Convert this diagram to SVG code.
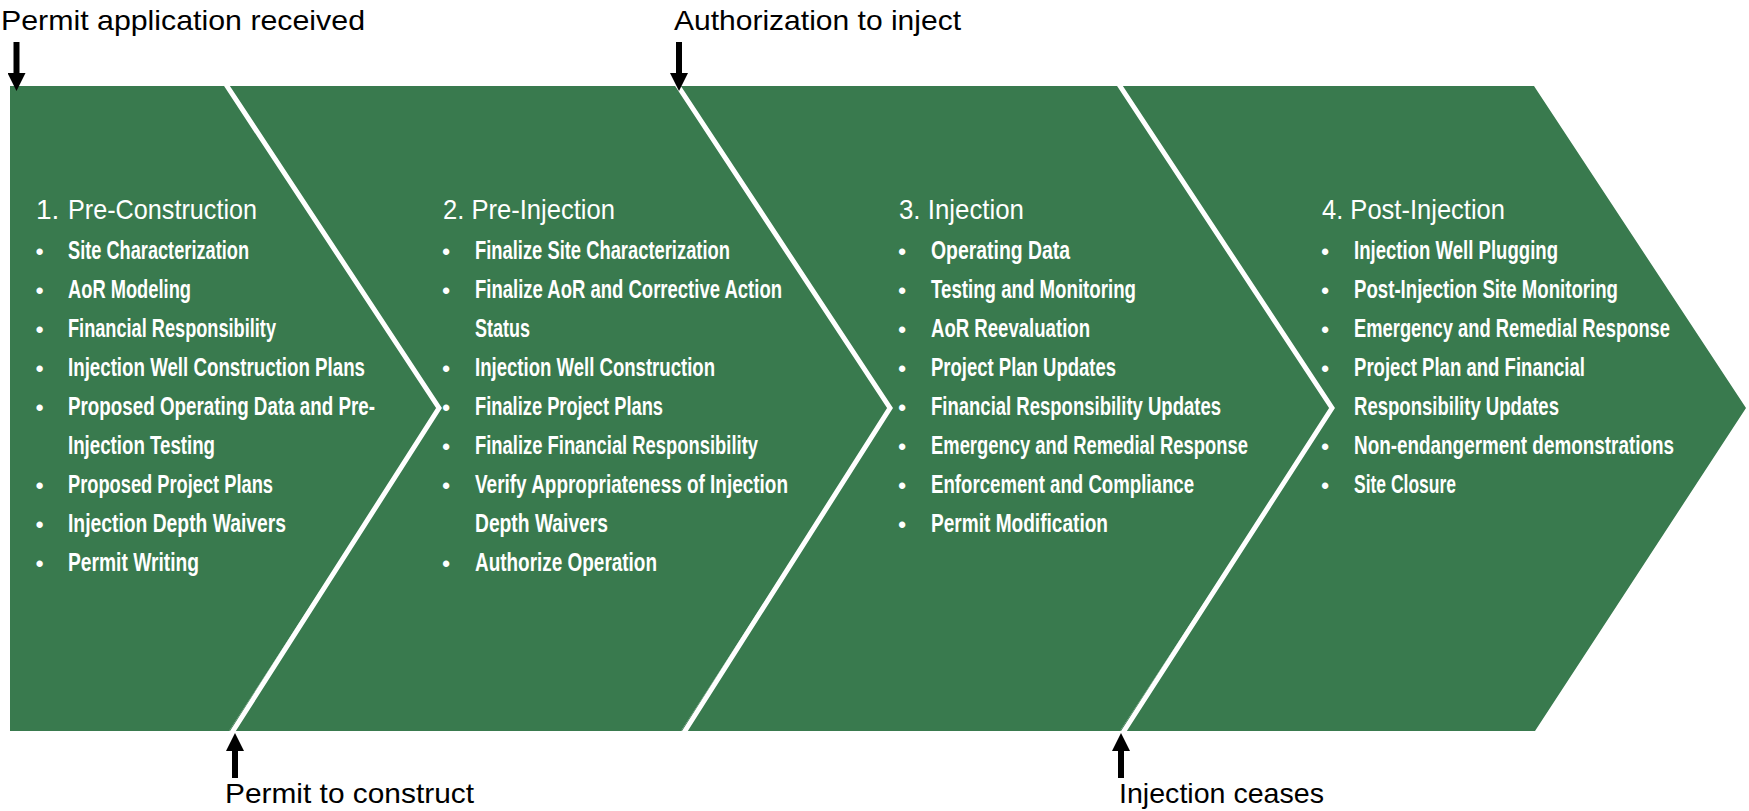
<svg xmlns="http://www.w3.org/2000/svg" width="1749" height="811" viewBox="0 0 1749 811">
<style>
.bg{fill:#ffffff}
.phase{fill:#397a4e}
.sep{fill:none;stroke:#ffffff;stroke-width:5;stroke-linejoin:miter}
.hd{font-family:"Liberation Sans",Arial,sans-serif;font-size:28px;fill:#ffffff}
.it{font-family:"Liberation Sans",Arial,sans-serif;font-size:18px;font-weight:bold;fill:#ffffff}
.bu{font-family:"Liberation Sans",Arial,sans-serif;font-size:22px;font-weight:bold;fill:#ffffff;text-anchor:middle}
.lb{font-family:"Liberation Sans",Arial,sans-serif;font-size:28px;fill:#000000}
.ar{fill:none;stroke:#000000;stroke-width:6}
</style>
<defs>
<marker id="head" viewBox="0 0 18 18" markerWidth="18" markerHeight="18" refX="0" refY="9" orient="auto" markerUnits="userSpaceOnUse">
<path d="M0,0 L18,9 L0,18 z" fill="#000000"/>
</marker>
</defs>
<rect class="bg" x="0" y="0" width="1749" height="811"/>

<g id="phase1">
<polygon class="phase" points="10,86 227,86 439,408 229,731 10,731"/>
<text class="hd" x="36" y="219">1.</text>
<text class="hd" x="68" y="219" textLength="189" lengthAdjust="spacingAndGlyphs">Pre-Construction</text>
<g class="bu">
<text x="39.5" y="259">•</text><text x="39.5" y="298">•</text><text x="39.5" y="337">•</text><text x="39.5" y="376">•</text><text x="39.5" y="415">•</text><text x="39.5" y="493">•</text><text x="39.5" y="532">•</text><text x="39.5" y="571">•</text>
</g>
<text class="it" transform="translate(68,259) scale(1,1.39)" textLength="181" lengthAdjust="spacingAndGlyphs">Site Characterization</text>
<text class="it" transform="translate(68,298) scale(1,1.39)" textLength="123" lengthAdjust="spacingAndGlyphs">AoR Modeling</text>
<text class="it" transform="translate(68,337) scale(1,1.39)" textLength="208" lengthAdjust="spacingAndGlyphs">Financial Responsibility</text>
<text class="it" transform="translate(68,376) scale(1,1.39)" textLength="297" lengthAdjust="spacingAndGlyphs">Injection Well Construction Plans</text>
<text class="it" transform="translate(68,415) scale(1,1.39)" textLength="307" lengthAdjust="spacingAndGlyphs">Proposed Operating Data and Pre-</text>
<text class="it" transform="translate(68,454) scale(1,1.39)" textLength="147" lengthAdjust="spacingAndGlyphs">Injection Testing</text>
<text class="it" transform="translate(68,493) scale(1,1.39)" textLength="205" lengthAdjust="spacingAndGlyphs">Proposed Project Plans</text>
<text class="it" transform="translate(68,532) scale(1,1.39)" textLength="218" lengthAdjust="spacingAndGlyphs">Injection Depth Waivers</text>
<text class="it" transform="translate(68,571) scale(1,1.39)" textLength="131" lengthAdjust="spacingAndGlyphs">Permit Writing</text>
</g>

<g id="phase2">
<polygon class="phase" points="227,86 678,86 890,408 681,731 229,731 439,408"/>
<text class="hd" x="443" y="219" textLength="172" lengthAdjust="spacingAndGlyphs">2. Pre-Injection</text>
<g class="bu">
<text x="446" y="259">•</text><text x="446" y="298">•</text><text x="446" y="376">•</text><text x="446" y="415">•</text><text x="446" y="454">•</text><text x="446" y="493">•</text><text x="446" y="571">•</text>
</g>
<text class="it" transform="translate(475,259) scale(1,1.39)" textLength="255" lengthAdjust="spacingAndGlyphs">Finalize Site Characterization</text>
<text class="it" transform="translate(475,298) scale(1,1.39)" textLength="307" lengthAdjust="spacingAndGlyphs">Finalize AoR and Corrective Action</text>
<text class="it" transform="translate(475,337) scale(1,1.39)" textLength="55" lengthAdjust="spacingAndGlyphs">Status</text>
<text class="it" transform="translate(475,376) scale(1,1.39)" textLength="240" lengthAdjust="spacingAndGlyphs">Injection Well Construction</text>
<text class="it" transform="translate(475,415) scale(1,1.39)" textLength="188" lengthAdjust="spacingAndGlyphs">Finalize Project Plans</text>
<text class="it" transform="translate(475,454) scale(1,1.39)" textLength="283" lengthAdjust="spacingAndGlyphs">Finalize Financial Responsibility</text>
<text class="it" transform="translate(475,493) scale(1,1.39)" textLength="313" lengthAdjust="spacingAndGlyphs">Verify Appropriateness of Injection</text>
<text class="it" transform="translate(475,532) scale(1,1.39)" textLength="133" lengthAdjust="spacingAndGlyphs">Depth Waivers</text>
<text class="it" transform="translate(475,571) scale(1,1.39)" textLength="182" lengthAdjust="spacingAndGlyphs">Authorize Operation</text>
</g>

<g id="phase3">
<polygon class="phase" points="678,86 1120,86 1332,408 1120,731 681,731 890,408"/>
<text class="hd" x="899" y="219" textLength="125" lengthAdjust="spacingAndGlyphs">3. Injection</text>
<g class="bu">
<text x="902" y="259">•</text><text x="902" y="298">•</text><text x="902" y="337">•</text><text x="902" y="376">•</text><text x="902" y="415">•</text><text x="902" y="454">•</text><text x="902" y="493">•</text><text x="902" y="532">•</text>
</g>
<text class="it" transform="translate(931,259) scale(1,1.39)" textLength="139" lengthAdjust="spacingAndGlyphs">Operating Data</text>
<text class="it" transform="translate(931,298) scale(1,1.39)" textLength="205" lengthAdjust="spacingAndGlyphs">Testing and Monitoring</text>
<text class="it" transform="translate(931,337) scale(1,1.39)" textLength="159" lengthAdjust="spacingAndGlyphs">AoR Reevaluation</text>
<text class="it" transform="translate(931,376) scale(1,1.39)" textLength="185" lengthAdjust="spacingAndGlyphs">Project Plan Updates</text>
<text class="it" transform="translate(931,415) scale(1,1.39)" textLength="290" lengthAdjust="spacingAndGlyphs">Financial Responsibility Updates</text>
<text class="it" transform="translate(931,454) scale(1,1.39)" textLength="317" lengthAdjust="spacingAndGlyphs">Emergency and Remedial Response</text>
<text class="it" transform="translate(931,493) scale(1,1.39)" textLength="263" lengthAdjust="spacingAndGlyphs">Enforcement and Compliance</text>
<text class="it" transform="translate(931,532) scale(1,1.39)" textLength="177" lengthAdjust="spacingAndGlyphs">Permit Modification</text>
</g>

<g id="phase4">
<polygon class="phase" points="1120,86 1534,86 1746,408 1535,731 1120,731 1332,408"/>
<text class="hd" x="1322" y="219" textLength="183" lengthAdjust="spacingAndGlyphs">4. Post-Injection</text>
<g class="bu">
<text x="1325" y="259">•</text><text x="1325" y="298">•</text><text x="1325" y="337">•</text><text x="1325" y="376">•</text><text x="1325" y="454">•</text><text x="1325" y="493">•</text>
</g>
<text class="it" transform="translate(1354,259) scale(1,1.39)" textLength="204" lengthAdjust="spacingAndGlyphs">Injection Well Plugging</text>
<text class="it" transform="translate(1354,298) scale(1,1.39)" textLength="264" lengthAdjust="spacingAndGlyphs">Post-Injection Site Monitoring</text>
<text class="it" transform="translate(1354,337) scale(1,1.39)" textLength="316" lengthAdjust="spacingAndGlyphs">Emergency and Remedial Response</text>
<text class="it" transform="translate(1354,376) scale(1,1.39)" textLength="231" lengthAdjust="spacingAndGlyphs">Project Plan and Financial</text>
<text class="it" transform="translate(1354,415) scale(1,1.39)" textLength="205" lengthAdjust="spacingAndGlyphs">Responsibility Updates</text>
<text class="it" transform="translate(1354,454) scale(1,1.39)" textLength="320" lengthAdjust="spacingAndGlyphs">Non-endangerment demonstrations</text>
<text class="it" transform="translate(1354,493) scale(1,1.39)" textLength="102" lengthAdjust="spacingAndGlyphs">Site Closure</text>
</g>

<g id="separators">
<polyline class="sep" points="225,83 439,408 231,734"/>
<polyline class="sep" points="676,83 890,408 683,734"/>
<polyline class="sep" points="1118,83 1332,408 1122,734"/>
</g>

<g id="connectors">
<line class="ar" x1="16.5" y1="42" x2="16.5" y2="73" marker-end="url(#head)"/>
<line class="ar" x1="679" y1="42" x2="679" y2="73" marker-end="url(#head)"/>
<line class="ar" x1="235" y1="778" x2="235" y2="751" marker-end="url(#head)"/>
<line class="ar" x1="1121" y1="778" x2="1121" y2="751" marker-end="url(#head)"/>
</g>

<g id="labels">
<text class="lb" x="1" y="30" textLength="364" lengthAdjust="spacingAndGlyphs">Permit application received</text>
<text class="lb" x="674" y="30" textLength="287" lengthAdjust="spacingAndGlyphs">Authorization to inject</text>
<text class="lb" x="225" y="803" textLength="249" lengthAdjust="spacingAndGlyphs">Permit to construct</text>
<text class="lb" x="1119" y="803" textLength="205" lengthAdjust="spacingAndGlyphs">Injection ceases</text>
</g>
</svg>
